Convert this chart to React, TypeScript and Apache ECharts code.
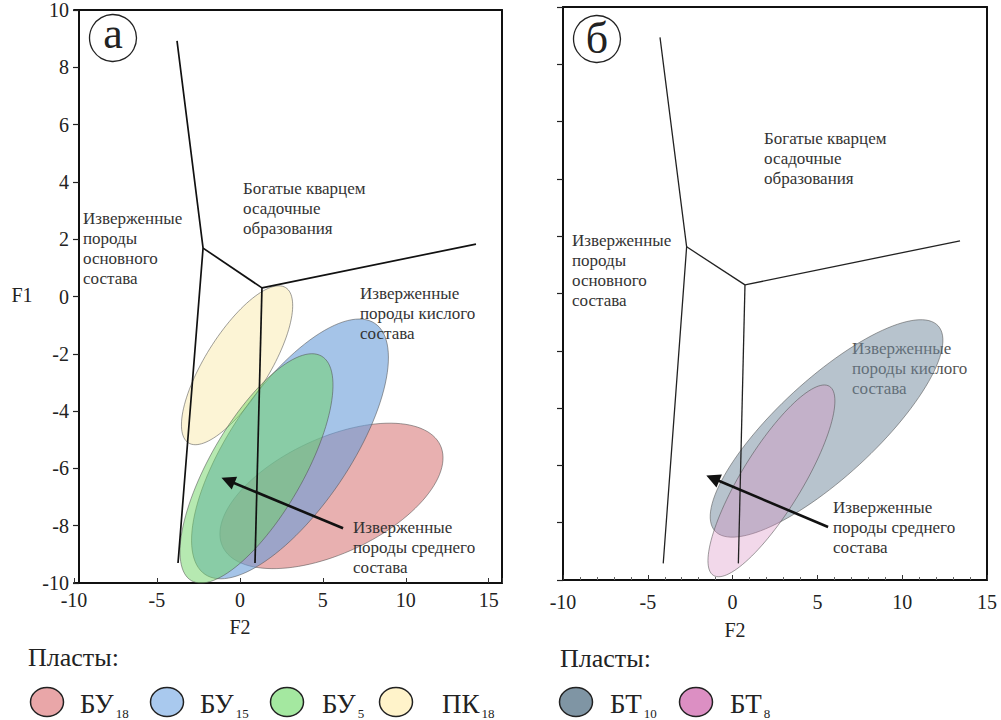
import React, { useEffect, useRef } from 'react';
import * as echarts from 'echarts';

// ---------- data ----------
const F2_LABELS = [-10, -5, 0, 5, 10, 15];

// Panel а: field boundaries (F2, F1)
const aBoundaryNW = [[-3.79, 8.92], [-2.22, 1.69], [-3.73, -9.3]];
const aBoundaryMid = [[-2.22, 1.69], [1.33, 0.3]];
const aBoundaryNE = [[1.33, 0.3], [14.23, 1.83]];
const aBoundaryS = [[1.33, 0.3], [0.91, -9.3]];
const aArrow = [[6.22, -8.09], [-0.72, -6.42]];
// ellipse: [centre F2, centre F1, major-axis end F2, F1, minor-axis end F2, F1]
const ellBU18 = [5.52, -6.96, 12.08, -5.19, 7.0, -8.78];
const ellPK18 = [-0.17, -2.4, 2.76, 0.31, 1.46, -2.99];
const ellBU15 = [3.02, -5.32, 8.14, -0.94, 6.02, -6.49];
const ellBU5 = [1.0, -6.0, 4.92, -2.08, 3.43, -6.81];

// Panel б
const bBoundaryNW = [[-4.28, 8.94], [-2.71, 1.63], [-4.09, -9.42]];
const bBoundaryMid = [[-2.71, 1.63], [0.73, 0.3]];
const bBoundaryNE = [[0.73, 0.3], [13.41, 1.84]];
const bBoundaryS = [[0.73, 0.3], [0.34, -9.42]];
const bArrow = [[5.63, -8.15], [-1.17, -6.45]];
const ellBT10 = [5.54, -4.71, 12.12, -1.13, 7.48, -5.97];
const ellBT8 = [2.29, -6.54, 5.71, -3.24, 3.81, -7.1];

const legendA = [
  { base: 'БУ', sub: '18' },
  { base: 'БУ', sub: '15' },
  { base: 'БУ', sub: '5' },
  { base: 'ПК', sub: '18' },
];
const legendB = [
  { base: 'БТ', sub: '10' },
  { base: 'БТ', sub: '8' },
];

// ---------- styles ----------
const SERIF = 'Liberation Serif';
const C = {
  bu18: { fill: 'rgba(213,111,111,0.55)', legend: '#E9A6A8' },
  pk18: { fill: 'rgba(250,236,185,0.6)', legend: '#FFF3CA' },
  bu15: { fill: 'rgba(105,157,217,0.6)', legend: '#A9C9EE' },
  bu5: { fill: 'rgba(110,212,100,0.5)', legend: '#A4E8A0' },
  bt10: { fill: 'rgba(111,135,155,0.5)', legend: '#7F95A4' },
  bt8: { fill: 'rgba(219,144,195,0.35)', legend: '#DC8FC3' },
};
const legendColorsA = [C.bu18.legend, C.bu15.legend, C.bu5.legend, C.pk18.legend];
const legendColorsB = [C.bt10.legend, C.bt8.legend];

function measure(text: string, size: number) {
  const ctx = document.createElement('canvas').getContext('2d')!;
  ctx.font = `${size}px ${SERIF}`;
  return ctx.measureText(text).width;
}

function ellipseSeries(name: string, values: number[], axis: number, fill: string) {
  return {
    type: 'custom',
    name,
    xAxisIndex: axis,
    yAxisIndex: axis,
    silent: true,
    data: [values],
    renderItem: (_p: any, api: any) => {
      const c = api.coord([api.value(0), api.value(1)]);
      const u = api.coord([api.value(2), api.value(3)]);
      const v = api.coord([api.value(4), api.value(5)]);
      const ux = u[0] - c[0], uy = u[1] - c[1], vx = v[0] - c[0], vy = v[1] - c[1];
      const pts: number[][] = [];
      const n = 120;
      for (let k = 0; k < n; k++) {
        const t = (k / n) * Math.PI * 2;
        pts.push([c[0] + ux * Math.cos(t) + vx * Math.sin(t), c[1] + uy * Math.cos(t) + vy * Math.sin(t)]);
      }
      return {
        type: 'polygon',
        shape: { points: pts },
        style: { fill, stroke: 'rgba(80,80,80,0.55)', lineWidth: 1 },
      };
    },
  };
}

function boundarySeries(lines: number[][][], axis: number, color: string, width: number) {
  return {
    type: 'lines',
    coordinateSystem: 'cartesian2d',
    xAxisIndex: axis,
    yAxisIndex: axis,
    polyline: true,
    silent: true,
    symbol: 'none',
    lineStyle: { color, width, opacity: 1 },
    data: lines.map((coords) => ({ coords })),
    z: 3,
  };
}

function arrowSeries(coords: number[][], axis: number) {
  return {
    type: 'lines',
    coordinateSystem: 'cartesian2d',
    xAxisIndex: axis,
    yAxisIndex: axis,
    silent: true,
    symbol: ['none', 'triangle'],
    symbolSize: 14,
    lineStyle: { color: '#111', width: 2.6, opacity: 1 },
    data: [{ coords }],
    z: 4,
  };
}

function textEl(text: string, x: number, y: number, z = 100, fill = '#333') {
  return {
    type: 'text',
    x,
    y,
    z,
    silent: true,
    style: {
      text,
      fill,
      fontSize: 17,
      fontFamily: SERIF,
      lineHeight: 20,
      align: 'left',
      verticalAlign: 'top',
    },
  };
}

function plainText(text: string, x: number, y: number, size: number, align = 'center') {
  return {
    type: 'text',
    silent: true,
    z: 100,
    x,
    y,
    style: { text, fontSize: size, fontFamily: SERIF, fill: '#222', align, verticalAlign: 'middle' },
  };
}

export default function App() {
  const ref = useRef<HTMLDivElement>(null);

  useEffect(() => {
    const el = ref.current!;
    const chart = echarts.init(el, null, { renderer: 'svg' });

    const axisLabelFont = { fontFamily: SERIF, fontSize: 20, color: '#222' };
    const frameLine = { show: true, onZero: false, lineStyle: { color: '#111', width: 2 } };

    const xBottom = (gridIndex: number, max: number, margin: number, minor: boolean) => ({
      type: 'value',
      gridIndex,
      position: 'bottom',
      min: -10,
      max,
      interval: 5,
      axisLine: frameLine,
      axisTick: { show: true, inside: true, length: 5, lineStyle: { color: '#333', width: 1 } },
      minorTick: { show: minor, splitNumber: 5, length: 3, lineStyle: { color: '#666', width: 1 } },
      splitLine: { show: false },
      axisLabel: {
        ...axisLabelFont,
        margin,
        formatter: (v: number) => (F2_LABELS.indexOf(v) >= 0 ? String(v) : ''),
      },
    });
    const xTop = (gridIndex: number, max: number) => ({
      type: 'value',
      gridIndex,
      position: 'top',
      min: -10,
      max,
      axisLine: frameLine,
      axisTick: { show: false },
      axisLabel: { show: false },
      splitLine: { show: false },
    });
    const yLeft = (gridIndex: number, showLabels: boolean, offset: number) => ({
      type: 'value',
      gridIndex,
      position: 'left',
      min: -10,
      max: 10,
      interval: 2,
      offset,
      axisLine: frameLine,
      axisTick: { show: true, inside: false, length: 6, lineStyle: { color: '#222', width: 1.2 } },
      splitLine: { show: false },
      axisLabel: { show: showLabels, ...axisLabelFont, margin: 10 },
    });
    const yRight = (gridIndex: number) => ({
      type: 'value',
      gridIndex,
      position: 'right',
      min: -10,
      max: 10,
      axisLine: frameLine,
      axisTick: { show: false },
      axisLabel: { show: false },
      splitLine: { show: false },
    });

    // legends
    const legendEls: any[] = [];
    const addLegend = (items: { base: string; sub: string }[], colors: string[], ex: number[], tx: number[]) => {
      items.forEach((it, i) => {
        legendEls.push({
          type: 'ellipse',
          silent: true,
          z: 100,
          shape: { cx: ex[i], cy: 702, rx: 16.5, ry: 14.5 },
          style: { fill: colors[i], stroke: '#222', lineWidth: 1.5 },
        });
        legendEls.push(plainText(it.base, tx[i], 704, 27, 'left'));
        const w = measure(it.base, 27);
        legendEls.push(plainText(it.sub, tx[i] + w + 2, 713, 13, 'left'));
      });
    };
    addLegend(legendA, legendColorsA, [47, 167, 287, 396], [80, 200, 322, 442]);
    addLegend(legendB, legendColorsB, [576, 696], [610, 730]);

    const option: any = {
      animation: false,
      backgroundColor: '#fff',
      textStyle: { fontFamily: SERIF },
      grid: [
        { left: 74, top: 8, width: 428, height: 575 },
        { left: 563, top: 7, width: 424, height: 573 },
      ],
      xAxis: [xBottom(0, 15.8, 7, false), xTop(0, 15.8), xBottom(1, 15, 12, true), xTop(1, 15)],
      yAxis: [yLeft(0, true, -5), yRight(0), yLeft(1, false, 0), yRight(1)],
      series: [
        // panel а
        ellipseSeries('БУ18', ellBU18, 0, C.bu18.fill),
        ellipseSeries('ПК18', ellPK18, 0, C.pk18.fill),
        ellipseSeries('БУ15', ellBU15, 0, C.bu15.fill),
        ellipseSeries('БУ5', ellBU5, 0, C.bu5.fill),
        boundarySeries([aBoundaryNW, aBoundaryMid, aBoundaryNE, aBoundaryS], 0, '#111', 1.7),
        arrowSeries(aArrow, 0),
        // panel б
        ellipseSeries('БТ10', ellBT10, 2, C.bt10.fill),
        ellipseSeries('БТ8', ellBT8, 2, C.bt8.fill),
        boundarySeries([bBoundaryNW, bBoundaryMid, bBoundaryNE, bBoundaryS], 2, '#222', 1.3),
        arrowSeries(bArrow, 2),
      ],
      graphic: [
        // panel labels
        { type: 'circle', silent: true, z: 100, shape: { cx: 113, cy: 38, r: 23.5 }, style: { fill: 'transparent', stroke: '#222', lineWidth: 1.3 } },
        plainText('а', 113, 33, 44),
        { type: 'circle', silent: true, z: 100, shape: { cx: 597, cy: 39, r: 23.5 }, style: { fill: 'transparent', stroke: '#222', lineWidth: 1.3 } },
        plainText('б', 597, 38, 44),
        // axis names
        plainText('F1', 22, 295, 20),
        plainText('F2', 240, 627, 20),
        plainText('F2', 735, 630, 20),
        // "Пласты:"
        plainText('Пласты:', 28, 657, 26, 'left'),
        plainText('Пласты:', 560, 658, 26, 'left'),
        // field annotations, panel а
        textEl('Изверженные\nпороды\nосновного\nсостава', 83, 208),
        textEl('Богатые кварцем\nосадочные\nобразования', 243, 178),
        textEl('Изверженные\nпороды кислого\nсостава', 360, 283),
        textEl('Изверженные\nпороды среднего\nсостава', 353, 517),
        // panel б
        textEl('Изверженные\nпороды\nосновного\nсостава', 572, 230),
        textEl('Богатые кварцем\nосадочные\nобразования', 764, 128),
        textEl('Изверженные\nпороды кислого\nсостава', 852, 338, 0, '#555'),
        textEl('Изверженные\nпороды среднего\nсостава', 833, 497),
        ...legendEls,
      ],
    };

    chart.setOption(option);
    return () => chart.dispose();
  }, []);

  return (
    <div
      ref={ref}
      style={{ position: 'fixed', left: 0, top: 0, width: 1001, height: 720, background: '#fff' }}
    />
  );
}
